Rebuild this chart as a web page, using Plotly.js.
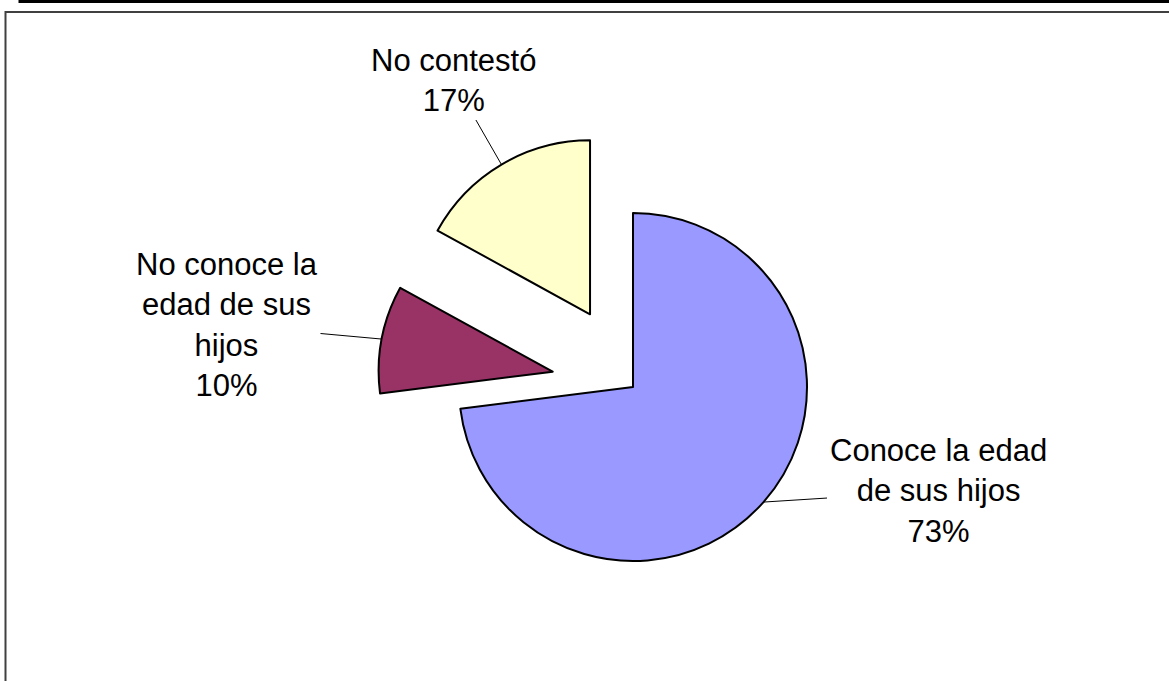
<!DOCTYPE html>
<html><head><meta charset="utf-8">
<script src="https://cdn.plot.ly/plotly-3.0.1.min.js"></script>
<style>html,body{margin:0;padding:0;background:#fff;overflow:hidden;} #chart{width:1169px;height:681px;}</style>
</head><body><div id="chart"></div>
<script>
// ---- data ----
const categories = ["Conoce la edad de sus hijos", "No conoce la edad de sus hijos", "No contestó"];
const labelText = ["Conoce la edad<br>de sus hijos", "No conoce la<br>edad de sus<br>hijos", "No contestó"];
const values = [73, 10, 17];
const colors = ["#9999FF", "#993366", "#FFFFCC"];
const pulls = [0, 0.47, 0.485];

// ---- layout constants ----
const W = 1169, H = 681;
const R = 174, CX = 633, CY = 387;           // pie radius / centre in px
const labelPos = [[938, 491], [227, 325], [453, 80]]; // label box centres in px
const FONT = "Liberation Sans, Arial, sans-serif";

const maxPull = Math.max(...pulls);
const half = R * (1 + maxPull);
const domX = [(CX - half) / W, (CX + half) / W];
const domY = [1 - (CY + half) / H, 1 - (CY - half) / H];

function px(x){ return x / W; }
function py(y){ return 1 - y / H; }

const shapes = [
  // table rule at top
  {type:'line', xref:'paper', yref:'paper', x0:px(19), x1:px(1169), y0:py(1.5), y1:py(1.5), line:{color:'#000', width:3}},
  {type:'line', xref:'paper', yref:'paper', x0:px(19.5), x1:px(19.5), y0:py(0), y1:py(3), line:{color:'#000', width:2}},
  {type:'line', xref:'paper', yref:'paper', x0:px(481), x1:px(481), y0:py(0), y1:py(3), line:{color:'#000', width:1}},
  {type:'line', xref:'paper', yref:'paper', x0:px(820), x1:px(820), y0:py(0), y1:py(3), line:{color:'#000', width:1}},
  // chart frame
  {type:'line', xref:'paper', yref:'paper', x0:px(5), x1:px(1169), y0:py(12), y1:py(12), line:{color:'#404040', width:2}},
  {type:'line', xref:'paper', yref:'paper', x0:px(5.5), x1:px(5.5), y0:py(11), y1:py(681), line:{color:'#404040', width:2}}
];

const trace = {
  type: 'pie',
  labels: categories,
  values: values,
  marker: {colors: colors, line: {color: '#000000', width: 2}},
  pull: pulls,
  sort: false,
  direction: 'clockwise',
  rotation: 0,
  textinfo: 'none',
  hoverinfo: 'label+percent',
  showlegend: false,
  domain: {x: domX, y: domY}
};

const layout = {
  width: W, height: H,
  margin: {l:0, r:0, t:0, b:0},
  paper_bgcolor: '#ffffff',
  plot_bgcolor: '#ffffff',
  showlegend: false,
  font: {family: FONT, color: '#000'},
  shapes: shapes
};

const gd = document.getElementById('chart');
Plotly.newPlot(gd, [trace], layout, {displayModeBar: false, staticPlot: true}).then(function(){
  const cd = gd.calcdata[0];
  const cd0 = cd[0];
  const total = values.reduce((a,b)=>a+b, 0);
  let cum = 0;
  const ann = [];
  values.forEach(function(v, i){
    const mid = (cum + v / 2) / total * 2 * Math.PI;
    cum += v;
    const r = cd0.r;
    const dx = Math.sin(mid) * r, dy = -Math.cos(mid) * r;
    const tipX = cd0.cx + (1 + pulls[i]) * dx;
    const tipY = cd0.cy + (1 + pulls[i]) * dy;
    const pct = Math.round(v / total * 100) + '%';
    ann.push({
      xref:'paper', yref:'paper',
      x: tipX / W, y: 1 - tipY / H,
      ax: labelPos[i][0] - tipX, ay: labelPos[i][1] - tipY,
      text: labelText[i] + '<br>' + pct,
      showarrow: true, arrowhead: 0, arrowwidth: 1, arrowcolor: '#000', standoff: 0,
      font: {family: FONT, size: 31, color: '#000'},
      align: 'center', borderpad: 2
    });
  });
  return Plotly.relayout(gd, {annotations: ann});
});
</script>
</body></html>
